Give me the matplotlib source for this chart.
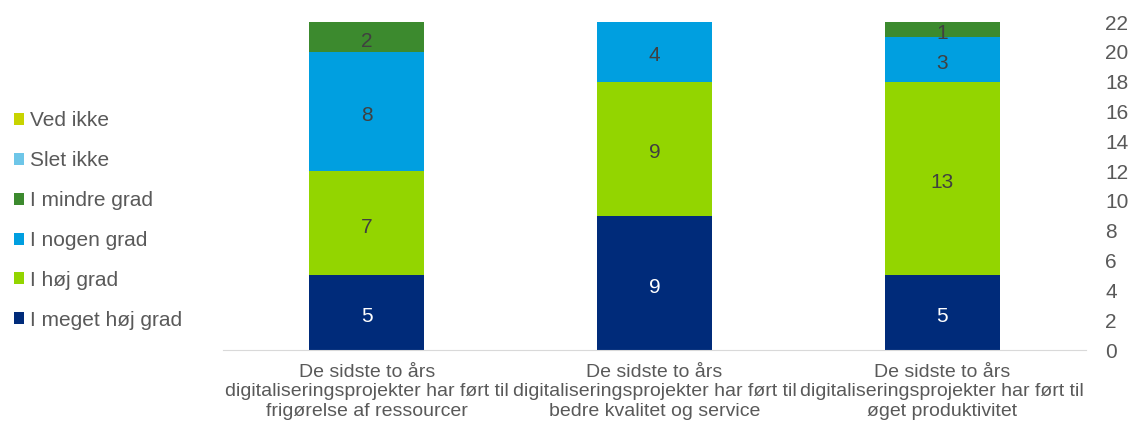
import matplotlib.pyplot as plt
import numpy as np

plt.rcParams['font.family'] = ['Liberation Sans', 'DejaVu Sans']

categories = [
    "De sidste to års\ndigitaliseringsprojekter har ført til\nfrigørelse af ressourcer",
    "De sidste to års\ndigitaliseringsprojekter har ført til\nbedre kvalitet og service",
    "De sidste to års\ndigitaliseringsprojekter har ført til\nøget produktivitet",
]
series = ["I meget høj grad", "I høj grad", "I nogen grad", "I mindre grad", "Slet ikke", "Ved ikke"]
meget_hoej = [5, 9, 5]
hoej = [7, 9, 13]
nogen = [8, 4, 3]
mindre = [2, 0, 1]
slet_ikke = [0, 0, 0]
ved_ikke = [0, 0, 0]
colors = ["#002b7a", "#93d500", "#009fe0", "#3c8a2e", "#6ec6e8", "#c8d400"]
label_colors = ["white", "#404040", "#404040", "#404040", "#404040", "#404040"]
yticks = list(range(0, 23, 2))

values = [meget_hoej, hoej, nogen, mindre, slet_ikke, ved_ikke]

fig = plt.figure(figsize=(11.33, 4.25), dpi=100)
ax = fig.add_axes([223 / 1133, 75 / 425, (1086 - 223) / 1133, 328 / 425])

x = np.arange(len(categories))
bottom = np.zeros(len(categories))
handles = []
for name, vals, col, lc in zip(series, values, colors, label_colors):
    vals = np.array(vals, dtype=float)
    bars = ax.bar(x, vals, width=0.4, bottom=bottom, color=col, label=name)
    handles.append(bars)
    for xi, b, v in zip(x, bottom, vals):
        if v > 0:
            ax.annotate(f"{int(v)}", (xi, b + v / 2), xytext=(0, -3),
                        textcoords="offset points", ha="center", va="center",
                        fontsize=15, color=lc)
    bottom += vals

ax.set_xlim(-0.5, 2.5)
ax.set_ylim(0, 22)
ax.set_yticks(yticks)
ax.yaxis.tick_right()
ax.tick_params(axis="y", length=0, pad=14, labelsize=15, labelcolor="#595959")
ax.set_xticks(x)
ax.set_xticklabels(categories, fontsize=14, color="#595959", linespacing=1.2)
ax.tick_params(axis="x", length=0, pad=10)
for s in ["top", "left", "right"]:
    ax.spines[s].set_visible(False)
ax.spines["bottom"].set_color("#d9d9d9")

fig.legend(handles[::-1], series[::-1], loc="center left",
           bbox_to_anchor=(0.0, 0.481), frameon=False, fontsize=15,
           labelcolor="#595959", handlelength=0.5, handleheight=0.5,
           handletextpad=0.3, labelspacing=1.0, borderaxespad=0.25)

fig.savefig("out.png", dpi=100)
